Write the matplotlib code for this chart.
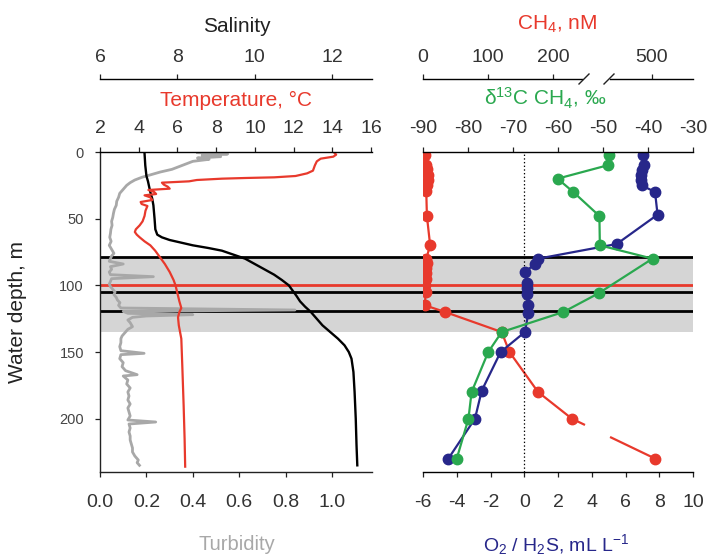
import numpy as np
import matplotlib.pyplot as plt
from matplotlib.lines import Line2D

plt.rcParams['font.family'] = ['Liberation Sans', 'DejaVu Sans']
plt.rcParams['mathtext.fontset'] = 'custom'
plt.rcParams['mathtext.rm'] = 'Liberation Sans'
plt.rcParams['axes.unicode_minus'] = False
plt.rcParams['lines.scale_dashes'] = False

# ---- left panel: CTD profiles ----
turb_depth = [0.5, 1.5, 2.5, 3.5, 4.5, 5.5, 7, 9, 11, 13, 15, 17, 19, 21, 23, 25, 28, 31, 34, 37,
              40, 43, 46, 49, 52, 55, 58, 61, 64, 67, 70, 73, 76, 78, 80, 82, 84, 86, 88, 90,
              92, 93.5, 95, 97, 99, 101, 103, 105, 107, 109, 111, 113, 115, 117, 118.5, 119.5,
              121, 122, 123, 124, 126, 128, 131, 133, 135, 138, 140, 143, 146, 149, 151, 152,
              155, 158, 161, 164, 167, 168, 171, 174, 177, 180, 183, 186, 189, 192, 195, 198,
              201, 202.5, 204, 207, 210, 213, 216, 219, 222, 225, 228, 231, 233, 235]
turbidity = [0.42, 0.55, 0.44, 0.52, 0.42, 0.47, 0.40, 0.37, 0.34, 0.31, 0.26, 0.22, 0.18, 0.15,
             0.13, 0.115, 0.10, 0.085, 0.08, 0.072, 0.07, 0.062, 0.058, 0.055, 0.05, 0.052, 0.047,
             0.045, 0.042, 0.048, 0.04, 0.05, 0.06, 0.05, 0.045, 0.04, 0.10, 0.045, 0.05, 0.04,
             0.045, 0.23, 0.05, 0.045, 0.04, 0.045, 0.055, 0.065, 0.06, 0.07, 0.075, 0.086, 0.08,
             0.09, 0.84, 0.10, 0.12, 0.40, 0.20, 0.14, 0.12, 0.13, 0.14, 0.12, 0.11, 0.095, 0.09,
             0.09, 0.085, 0.09, 0.19, 0.09, 0.085, 0.10, 0.095, 0.11, 0.16, 0.10, 0.12, 0.115,
             0.13, 0.12, 0.125, 0.12, 0.13, 0.12, 0.125, 0.13, 0.12, 0.24, 0.125, 0.13, 0.125,
             0.13, 0.13, 0.135, 0.14, 0.14, 0.15, 0.165, 0.16, 0.17]

temp_depth = [0.5, 2, 3.5, 5, 7, 10, 14, 16, 18, 19, 19.5, 20, 21, 22, 23, 24.5, 26, 27.5, 28.5,
              30, 31.5, 32.5, 34, 36, 37.5, 39, 40.5, 44, 48, 52, 55, 58, 60, 62, 64, 67, 70, 74,
              78, 84, 90, 96, 100, 106, 112, 117, 120, 124, 130, 140, 160, 190, 215, 236]
temperature = [14.1, 14.2, 14.05, 13.4, 13.2, 13.1, 13.0, 12.7, 12.1, 11.0, 9.5, 8.3, 7.0, 6.6,
               5.2, 5.3, 5.5, 5.6, 4.5, 4.8, 4.9, 4.3, 4.6, 4.7, 4.1, 4.15, 4.45, 4.35, 4.3, 4.2,
               4.05, 3.85, 3.8, 3.9, 4.05, 4.3, 4.6, 4.85, 5.05, 5.35, 5.6, 5.8, 5.9, 6.0, 6.1,
               6.2, 6.1, 6.03, 6.07, 6.2, 6.25, 6.32, 6.37, 6.4]

sal_depth = [0.5, 10, 18, 22, 26, 30, 35, 40, 50, 58, 62, 64, 66, 68, 70, 72, 74, 77, 80, 84,
             88, 92, 96, 100, 104, 108, 112, 116, 120, 125, 130, 135, 140, 145, 150, 155, 165,
             180, 200, 220, 235]
salinity = [7.15, 7.17, 7.2, 7.24, 7.27, 7.3, 7.35, 7.38, 7.41, 7.43, 7.48, 7.6, 7.8, 8.1, 8.4,
            8.8, 9.15, 9.45, 9.75, 10.0, 10.25, 10.5, 10.7, 10.88, 10.98, 11.08, 11.17, 11.3,
            11.45, 11.6, 11.75, 11.95, 12.15, 12.32, 12.43, 12.5, 12.55, 12.58, 12.61, 12.63,
            12.65]

# ---- right panel: discrete samples ----
o2_depth = [2, 10, 13.5, 17, 21, 25, 30, 47, 69, 80, 84, 90, 98.5, 102, 106.5, 115, 121, 135,
            150, 179, 200, 230]
o2_h2s = [7.06, 7.1, 6.96, 6.9, 6.9, 6.96, 7.75, 7.9, 5.48, 0.83, 0.64, 0.04, 0.14, 0.14, 0.14,
          0.24, 0.24, 0.04, -1.4, -2.52, -2.92, -4.5]

d13c_depth = [2, 10, 20, 30, 48, 70, 80, 106, 120, 135, 150, 180, 200, 230]
d13c = [-48.6, -49.0, -60.1, -56.6, -50.8, -50.7, -39.0, -51.0, -58.8, -72.5, -75.5, -79.2,
        -79.9, -82.5]

ch4_depth = [2, 10, 13, 17, 21, 25, 29, 48, 70, 80, 83, 87, 91, 95, 100, 105, 115, 120, 135,
             150, 180, 200, 230]
ch4 = [3, 4, 6, 8, 7, 6, 5, 6, 11, 5, 6, 5, 5, 4, 3, 4, 3, 34, 121, 133, 177, 229, 505]

# redox zone
zone_top, zone_bottom = 79, 135
marker_depths = [79, 100, 105, 119]
marker_colors = ['black', '#e8392c', 'black', 'black']

RED = '#e8392c'
GREEN = '#2aa84f'
BLUE = '#27278a'
GRAY = '#a8a8a8'
TXT = '#333333'

W, H = 708, 560


def box(x0, y0, x1, y1):
    return [x0 / W, 1 - y1 / H, (x1 - x0) / W, (y1 - y0) / H]


def fxy(x, y):
    return x / W, 1 - y / H


def style_ticks(a, **kw):
    a.tick_params(direction='out', length=3.6, width=0.9, color='#222222',
                  labelcolor=TXT, labelsize=14, **kw)


fig = plt.figure(figsize=(7.08, 5.6), dpi=100)

# background band + horizontal marker lines spanning both panels
bg = fig.add_axes(box(100, 152, 693, 472), zorder=0)
bg.set_ylim(240, 0)
bg.set_xlim(0, 1)
bg.axis('off')
bg.axhspan(zone_top, zone_bottom, color='#d5d5d5', lw=0)
for d, c in zip(marker_depths, marker_colors):
    bg.axhline(d, color=c, lw=2.0)

# left panel
ax = fig.add_axes(box(100, 152, 372, 472), zorder=2)
ax.patch.set_visible(False)
ax.set_ylim(240, 0)
ax.set_xlim(0, 1.172)
ax.plot(turbidity, turb_depth, color=GRAY, lw=2.0, zorder=2)
for s in ['top', 'right']:
    ax.spines[s].set_visible(False)
for s in ['left', 'bottom']:
    ax.spines[s].set_linewidth(1.0)
    ax.spines[s].set_color('#222222')
ax.set_xticks([0, 0.2, 0.4, 0.6, 0.8, 1.0])
ax.set_xticklabels(['0.0', '0.2', '0.4', '0.6', '0.8', '1.0'])
ax.set_yticks([0, 50, 100, 150, 200])
style_ticks(ax, axis='x', pad=12.5)
ax.tick_params(axis='y', direction='out', length=3.6, width=0.9, color='#222222',
               labelcolor='#444444', labelsize=10.5, pad=8)

axS = ax.twiny()
axS.set_zorder(3)
axS.patch.set_visible(False)
axS.set_xlim(6, 13.03)
axS.plot(salinity, sal_depth, color='black', lw=1.7)
for s in ['bottom', 'left', 'right']:
    axS.spines[s].set_visible(False)
axS.spines['top'].set_position(('outward', 52.6))
axS.spines['top'].set_linewidth(1.0)
axS.set_xticks([6, 8, 10, 12])
style_ticks(axS, axis='x', pad=5.5)

axT = ax.twiny()
axT.set_zorder(4)
axT.patch.set_visible(False)
axT.set_xlim(2, 16.05)
axT.plot(temperature, temp_depth, color=RED, lw=1.6)
for s in ['bottom', 'left', 'right']:
    axT.spines[s].set_visible(False)
axT.spines['top'].set_linewidth(1.0)
axT.set_xticks([2, 4, 6, 8, 10, 12, 14, 16])
style_ticks(axT, axis='x', pad=7.5)

# right panel
axR = fig.add_axes(box(423, 152, 693, 472), zorder=5)
axR.patch.set_visible(False)
axR.set_ylim(240, 0)
axR.set_xlim(-6, 10)
axR.axvline(0, color='black', ls=':', lw=0.9, zorder=1)
axR.plot(o2_h2s, o2_depth, color=BLUE, lw=1.6, marker='o', ms=7.5, zorder=3)
for s in ['top', 'left', 'right']:
    axR.spines[s].set_visible(False)
axR.spines['bottom'].set_linewidth(1.0)
axR.set_xticks([-6, -4, -2, 0, 2, 4, 6, 8, 10])
axR.set_yticks([])
style_ticks(axR, axis='x', pad=12.5)


def ch4_fwd(v):
    v = np.asarray(v, dtype=float)
    return np.where(v <= 260, v, np.where(v >= 407.7, v - 147.7, 260))


def ch4_inv(u):
    u = np.asarray(u, dtype=float)
    return np.where(u <= 260, u, u + 147.7)


axC = axR.twiny()
axC.set_zorder(4)
axC.patch.set_visible(False)
axC.set_xscale('function', functions=(ch4_fwd, ch4_inv))
axC.set_xlim(0, 563.1)
axC.plot(ch4[:-1], ch4_depth[:-1], color=RED, lw=1.6, marker='o', ms=7.5)
axC.plot(ch4[-2:], ch4_depth[-2:], color=RED, lw=1.6, ls=(0, (10.5, 20, 40)))
axC.plot(ch4[-1:], ch4_depth[-1:], color=RED, ls='none', marker='o', ms=7.5)
for s in axC.spines.values():
    s.set_visible(False)
axC.tick_params(top=False, labeltop=False, bottom=False, labelbottom=False)

axG = axR.twiny()
axG.set_zorder(6)
axG.patch.set_visible(False)
axG.set_xlim(-90, -30)
axG.plot(d13c, d13c_depth, color=GREEN, lw=1.6, marker='o', ms=7.5)
for s in ['bottom', 'left', 'right']:
    axG.spines[s].set_visible(False)
axG.spines['top'].set_linewidth(1.0)
axG.set_xticks([-90, -80, -70, -60, -50, -40, -30])
style_ticks(axG, axis='x', pad=7.5)

# broken CH4 axis (display only)
for (x0, x1), lim, ticks in [((423, 582), (0, 244.6), [0, 100, 200]),
                             ((610, 693), (435.4, 563.1), [500])]:
    a = fig.add_axes(box(x0, 79, x1, 80))
    a.patch.set_visible(False)
    a.set_xlim(*lim)
    a.set_yticks([])
    for s in ['bottom', 'left', 'right']:
        a.spines[s].set_visible(False)
    a.spines['top'].set_linewidth(1.0)
    a.xaxis.tick_top()
    a.set_xticks(ticks)
    style_ticks(a, axis='x', pad=5.5)

for xb in [584, 609]:
    (x0, y0), (x1, y1) = fxy(xb - 5, 84), fxy(xb + 5, 74)
    fig.add_artist(Line2D([x0, x1], [y0, y1], transform=fig.transFigure,
                          color='#222222', lw=1.0))

# titles
def label(x, y, s, color, size=15, **kw):
    fx, fy = fxy(x, y)
    fig.text(fx, fy, s, color=color, fontsize=size, ha='center', va='center', **kw)


label(237, 26, 'Salinity', '#222222')
label(236, 100, 'Temperature, °C', RED)
label(557, 24, r'CH$\mathregular{_4}$, nM', RED)
label(545, 98, r'δ$\mathregular{^{13}}$C CH$\mathregular{_4}$, ‰', GREEN)
label(237, 545, 'Turbidity', GRAY, size=14.5)
label(556, 545, r'O$\mathregular{_2}$ / H$\mathregular{_2}$S, mL L$\mathregular{^{-1}}$', BLUE,
      size=14)
label(18, 312, 'Water depth, m', '#222222', rotation=90)

fig.savefig('out.png', dpi=100)
